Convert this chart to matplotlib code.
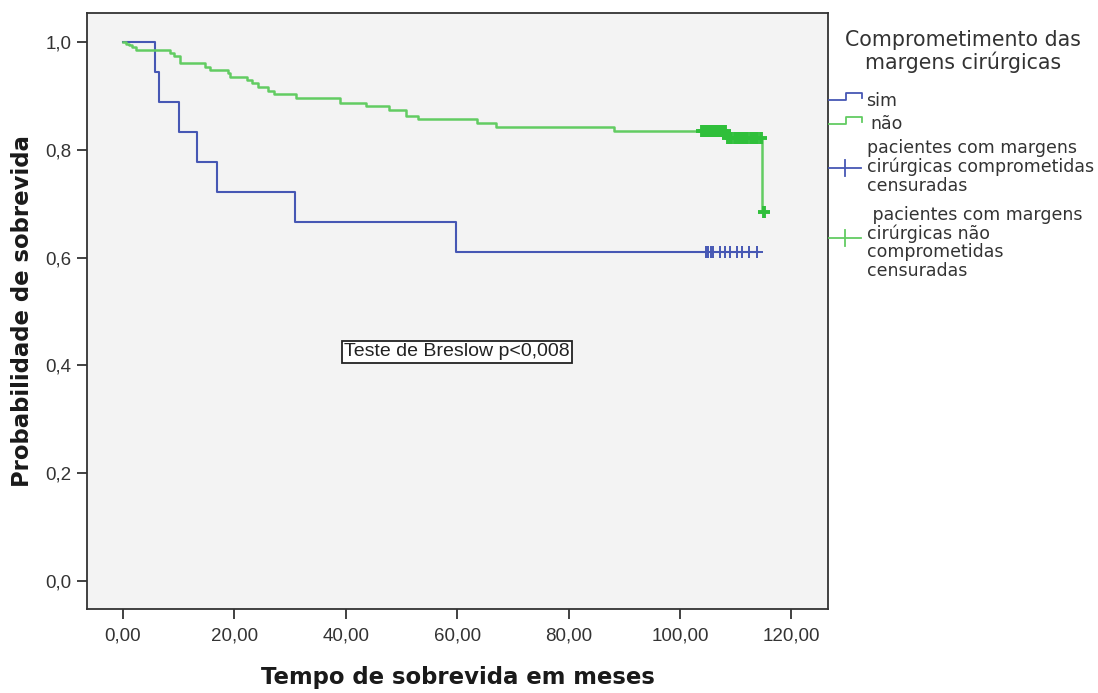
import matplotlib
matplotlib.use("Agg")
import matplotlib.pyplot as plt
from matplotlib.lines import Line2D

# Kaplan-Meier step data: margins compromised ("sim")
t_sim = [0.0, 5.7, 6.4, 10.0, 13.2, 16.8, 30.9, 59.7, 114.0]
s_sim = [1.0, 0.944, 0.889, 0.833, 0.778, 0.722, 0.667, 0.611, 0.611]
cens_t_sim = [104.7, 105.1, 105.5, 106.0, 107.1, 108.1, 109.0, 110.2, 111.1, 112.3, 113.9]
cens_s_sim = [0.611] * len(cens_t_sim)

# Kaplan-Meier step data: margins not compromised ("não")
t_nao = [0.0, 0.5, 1.0, 1.6, 2.4, 8.5, 9.2, 10.2, 14.7, 15.6, 18.8, 19.3, 22.2, 23.2,
         24.2, 26.0, 27.1, 31.1, 38.9, 43.6, 47.8, 50.8, 52.9, 63.6, 66.9, 88.2,
         108.3, 114.8, 115.0]
s_nao = [1.0, 0.997, 0.994, 0.991, 0.986, 0.980, 0.974, 0.962, 0.954, 0.949, 0.942,
         0.936, 0.930, 0.924, 0.917, 0.910, 0.904, 0.896, 0.887, 0.881, 0.874, 0.863,
         0.857, 0.849, 0.843, 0.835, 0.822, 0.685, 0.685]
cens_t_nao = [104.0, 104.3, 104.6, 104.9, 105.2, 105.5, 105.8, 106.2, 106.6, 107.0,
              107.5, 108.0, 108.7, 109.2, 109.8, 110.4, 110.9, 111.5, 112.1, 112.7,
              113.3, 113.9, 114.5, 115.0]
cens_s_nao = [0.835] * 12 + [0.822] * 11 + [0.685]

x_ticks = [0, 20, 40, 60, 80, 100, 120]
x_ticklabels = ["0,00", "20,00", "40,00", "60,00", "80,00", "100,00", "120,00"]
y_ticks = [0.0, 0.2, 0.4, 0.6, 0.8, 1.0]
y_ticklabels = ["0,0", "0,2", "0,4", "0,6", "0,8", "1,0"]

BLUE = "#4657b4"
GREEN_LINE = "#62cc62"
GREEN_MARK = "#2fbf3a"
TXT = "#333333"

W, H = 1098, 693
fig = plt.figure(figsize=(W / 100, H / 100), dpi=100, facecolor="white")


def fx(px):
    return px / W


def fy(py):
    return 1 - py / H


ax = fig.add_axes([fx(87), fy(609), fx(828) - fx(87), fy(13) - fy(609)])
ax.set_facecolor("#f3f3f3")

ax.step(t_sim, s_sim, where="post", color=BLUE, lw=1.5)
ax.plot(cens_t_sim, cens_s_sim, ls="none", marker="+", ms=8, mew=1.4, color=BLUE)

ax.step(t_nao, s_nao, where="post", color=GREEN_LINE, lw=1.8)
ax.plot(cens_t_nao, cens_s_nao, ls="none", marker="+", ms=9, mew=2.8, color=GREEN_MARK)

ax.set_xlim(-6.46, 126.57)
ax.set_ylim(-0.052, 1.054)

ax.set_xticks(x_ticks)
ax.set_xticklabels(x_ticklabels, fontfamily="Liberation Sans", fontsize=13.5, color=TXT)
ax.set_yticks(y_ticks)
ax.set_yticklabels(y_ticklabels, fontfamily="Liberation Sans", fontsize=13.5, color=TXT)
ax.tick_params(axis="both", direction="out", length=7, width=1.3, color=TXT, pad=4)
ax.tick_params(axis="x", pad=6)

for side in ["left", "bottom", "right", "top"]:
    ax.spines[side].set_linewidth(1.3)
    ax.spines[side].set_color(TXT)

ax.set_xlabel("Tempo de sobrevida em meses", fontsize=16.4, fontweight="bold",
              labelpad=16, color="#1a1a1a")
ax.set_ylabel("Probabilidade de sobrevida", fontsize=16.4, fontweight="bold",
              labelpad=8, color="#1a1a1a")

ax.text(60.0, 0.425, "Teste de Breslow p<0,008", ha="center", va="center",
        fontfamily="Liberation Sans", fontsize=14, color="#222222",
        bbox=dict(boxstyle="square,pad=0.12", facecolor="white", edgecolor="#222222", lw=1.3))

# Legend drawn in figure coordinates to the right of the plot
fig.text(fx(963), fy(40), "Comprometimento das", ha="center", va="center", fontsize=14.8, color=TXT)
fig.text(fx(963), fy(62), "margens cirúrgicas", ha="center", va="center", fontsize=14.8, color=TXT)

fig.add_artist(Line2D([fx(829), fx(846), fx(846), fx(862), fx(862)],
                      [fy(100), fy(100), fy(93), fy(93), fy(98)], color=BLUE, lw=1.3))
fig.text(fx(866), fy(101), "sim", ha="left", va="center", fontsize=12.5, color=TXT)

fig.add_artist(Line2D([fx(829), fx(846), fx(846), fx(862), fx(862)],
                      [fy(124), fy(124), fy(117), fy(117), fy(122)], color=GREEN_LINE, lw=1.3))
fig.text(fx(870), fy(124), "não", ha="left", va="center", fontsize=12.5, color=TXT)

fig.add_artist(Line2D([fx(829), fx(861)], [fy(168), fy(168)], color=BLUE, lw=1.3))
fig.add_artist(Line2D([fx(845), fx(845)], [fy(160), fy(176)], color=BLUE, lw=1.3))
fig.text(fx(867), fy(167), "pacientes com margens\ncirúrgicas comprometidas\ncensuradas",
         ha="left", va="center", fontsize=12.5, color=TXT, linespacing=1.02)

fig.add_artist(Line2D([fx(829), fx(861)], [fy(238), fy(238)], color=GREEN_LINE, lw=1.3))
fig.add_artist(Line2D([fx(845), fx(845)], [fy(230), fy(246)], color=GREEN_LINE, lw=1.3))
fig.text(fx(867), fy(243), " pacientes com margens\ncirúrgicas não\ncomprometidas\ncensuradas",
         ha="left", va="center", fontsize=12.5, color=TXT, linespacing=1.02)

fig.savefig("out.png", dpi=100, facecolor="white")
